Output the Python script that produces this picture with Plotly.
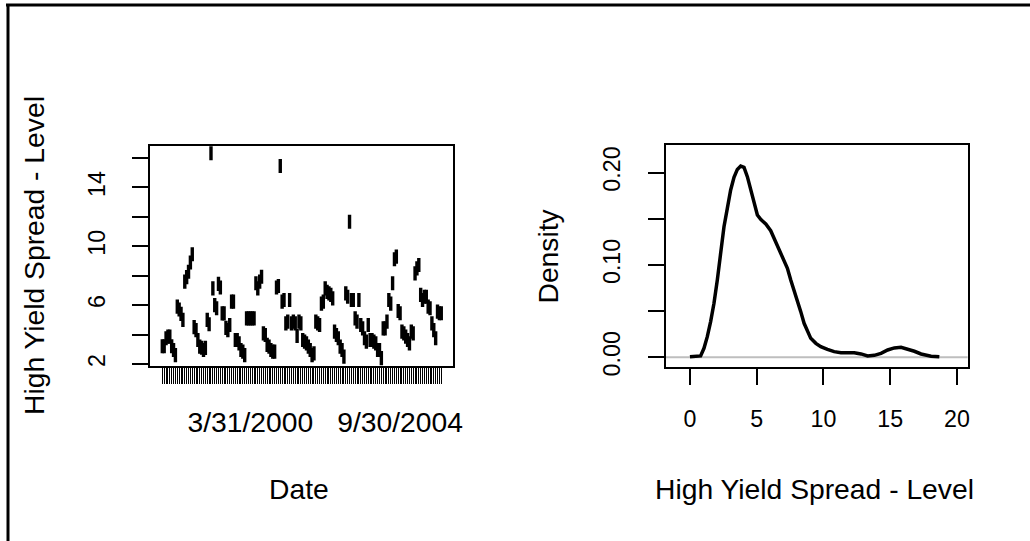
import plotly.graph_objects as go

# ---- data ----
# High yield spread level, one value per date category, in the order shown on the axis
spread_level = [
    3.2, 3.2, 3.75, 3.86, 3.86, 3.2, 2.95, 2.6, 5.9, 5.7,
    5.4, 5.0, 7.6, 7.9, 8.27, 8.9, 9.46, 4.5, 4.3, 3.63,
    3.18, 3.1, 2.95, 3.09, 5.0, 4.7, 16.33, 7.14, 6.0, 5.79,
    7.44, 7.2, 5.44, 5.44, 4.45, 4.3, 4.65, 6.24, 6.24, 3.63,
    3.63, 3.4, 2.95, 2.84, 2.6, 5.1, 5.1, 5.1, 5.1, 5.1,
    7.49, 7.14, 7.6, 7.93, 4.08, 3.97, 3.3, 3.18, 2.95, 2.84,
    2.84, 7.2, 7.3, 15.46, 6.24, 6.35, 4.76, 4.88, 6.35, 4.76,
    4.88, 4.76, 3.9, 4.88, 4.76, 3.63, 3.52, 3.4, 3.18, 2.95,
    2.6, 2.72, 4.88, 4.76, 4.65, 6.1, 6.24, 7.14, 6.9, 6.8,
    6.7, 6.46, 4.2, 3.97, 3.75, 3.18, 2.95, 2.5, 6.8, 6.57,
    11.67, 6.35, 6.35, 5.1, 4.88, 6.35, 4.65, 4.42, 3.75, 3.52,
    4.65, 3.63, 3.63, 3.52, 3.4, 2.95, 2.95, 2.4, 4.42, 4.42,
    4.88, 6.35, 6.1, 7.49, 9.12, 9.3, 5.6, 5.45, 4.2, 4.08,
    3.86, 3.63, 3.4, 4.2, 4.08, 8.16, 8.5, 8.73, 6.7, 6.35,
    6.57, 6.57, 5.9, 5.79, 4.76, 4.3, 3.75, 5.56, 5.45, 5.45,
]
date_label_pos = [48, 128]
date_label_text = ["3/31/2000", "9/30/2004"]
level_ticks = [2, 4, 6, 8, 10, 12, 14, 16]
level_tick_text = ["2", "", "6", "", "10", "", "14", ""]

density_x = [0.0, 0.80, 1.05, 1.30, 1.55, 1.80, 2.05, 2.30, 2.55, 2.80,
             3.05, 3.30, 3.55, 3.80, 4.05, 4.30, 4.55, 4.80, 5.05, 5.30,
             5.68, 6.05, 6.30, 6.68, 7.05, 7.30, 7.55, 7.80, 8.05, 8.30,
             8.55, 8.80, 9.05, 9.43, 9.80, 10.30, 10.80, 11.31, 12.31, 12.81,
             13.31, 13.81, 14.31, 14.81, 15.31, 15.81, 16.31, 16.81, 17.31, 18.06,
             18.68]
density_y = [0.0005, 0.0015, 0.0097, 0.0223, 0.0386, 0.0584, 0.0837, 0.1125, 0.1414, 0.1612,
             0.1811, 0.1948, 0.2034, 0.2070, 0.2056, 0.1955, 0.1811, 0.1666, 0.1540, 0.1493,
             0.1443, 0.1370, 0.1288, 0.1161, 0.1060, 0.0963, 0.0837, 0.0728, 0.0620, 0.0494,
             0.0368, 0.0277, 0.0205, 0.0151, 0.0115, 0.0086, 0.0061, 0.0050, 0.0050, 0.0036,
             0.0014, 0.0021, 0.0043, 0.0079, 0.0101, 0.0108, 0.0090, 0.0065, 0.0036, 0.0012,
             0.0005]
density_ticks = [0, 0.05, 0.10, 0.15, 0.20]
density_tick_text = ["0.00", "", "0.10", "", "0.20"]
level_x_ticks = [0, 5, 10, 15, 20]

# ---- layout helpers (design coordinates are reference pixels of a 1030x541 picture) ----
RW, RH = 1030, 541
FW, FH = 1040, 551          # figure size actually written
K = FW / RW                 # scale for fonts / lengths
def px(x):
    return x / RW
def py(y):
    return 1 - y / RH

n = len(spread_level)
obs = list(range(1, n + 1))
x_ticktext = [""] * n
for p, t in zip(date_label_pos, date_label_text):
    x_ticktext[p - 1] = t

FONT = "Liberation Sans, Arial, sans-serif"

fig = go.Figure()
fig.add_trace(go.Scatter(
    x=obs, y=spread_level, mode="markers",
    marker=dict(symbol="line-ns", size=10 * K, color="black",
                line=dict(width=3.4, color="black")),
    xaxis="x", yaxis="y", showlegend=False, hoverinfo="skip"))
fig.add_trace(go.Scatter(
    x=density_x, y=density_y, mode="lines",
    line=dict(color="black", width=3.5),
    xaxis="x2", yaxis="y2", showlegend=False, hoverinfo="skip"))

axis_common = dict(showgrid=False, zeroline=False, showline=True, mirror=True,
                   linecolor="black", linewidth=2, ticks="outside", ticklen=round(16 * K),
                   tickcolor="black")

fig.update_layout(
    width=FW, height=FH, margin=dict(l=0, r=0, t=0, b=0),
    paper_bgcolor="white", plot_bgcolor="white",
    font=dict(family=FONT, color="black"),
    xaxis=dict(domain=[px(150), px(453)], anchor="y",
               range=[0.5 - 0.04 * n, n + 0.5 + 0.04 * n],
               tickmode="array", tickvals=obs, ticktext=x_ticktext, tickwidth=1.2,
               tickfont=dict(size=28 * K), ticklabelstandoff=14, **axis_common),
    yaxis=dict(domain=[py(366), py(146)], anchor="x",
               range=[1.86, 16.82], tickmode="array", tickwidth=1.5,
               tickvals=level_ticks, ticktext=level_tick_text, tickangle=-90,
               tickfont=dict(size=23 * K), ticklabelstandoff=18, **axis_common),
    xaxis2=dict(domain=[px(665), px(966.7)], anchor="y2",
                range=[-1.82, 20.8], tickmode="array", tickvals=level_x_ticks,
                ticktext=[str(v) for v in level_x_ticks], tickwidth=1.5,
                tickfont=dict(size=23 * K), ticklabelstandoff=14, **axis_common),
    yaxis2=dict(domain=[py(366.7), py(145)], anchor="x2",
                range=[-0.0102, 0.2298], tickmode="array", tickwidth=1.5,
                tickvals=density_ticks, ticktext=density_tick_text, tickangle=-90,
                tickfont=dict(size=23 * K), ticklabelstandoff=18, **axis_common),
    shapes=[
        dict(type="line", xref="x2 domain", yref="y2", x0=0, x1=1, y0=0, y1=0,
             line=dict(color="#bebebe", width=2), layer="below"),
        dict(type="line", xref="paper", yref="paper", x0=px(6), x1=1, y0=py(5), y1=py(5),
             line=dict(color="black", width=3)),
        dict(type="line", xref="paper", yref="paper", x0=px(8), x1=px(8), y0=py(5), y1=0,
             line=dict(color="black", width=3)),
    ],
    annotations=[
        dict(text="High Yield Spread - Level", xref="paper", yref="paper",
             x=px(34), y=py(256), textangle=-90, showarrow=False,
             font=dict(size=28 * K), xanchor="center", yanchor="middle"),
        dict(text="Date", xref="paper", yref="paper", x=px(299), y=py(489),
             showarrow=False, font=dict(size=28 * K), xanchor="center", yanchor="middle"),
        dict(text="Density", xref="paper", yref="paper", x=px(547), y=py(256),
             textangle=-90, showarrow=False, font=dict(size=28 * K),
             xanchor="center", yanchor="middle"),
        dict(text="High Yield Spread - Level", xref="paper", yref="paper",
             x=px(814), y=py(489), showarrow=False, font=dict(size=28 * K),
             xanchor="center", yanchor="middle"),
    ],
)

post = """
(function(){
  var s = document.createElement('style');
  s.innerHTML = 'html,body{margin:0 !important;padding:0 !important;overflow:hidden !important;}';
  document.head.appendChild(s);
})();
"""
fig.write_html("out.html", config={"displayModeBar": False}, post_script=post)
